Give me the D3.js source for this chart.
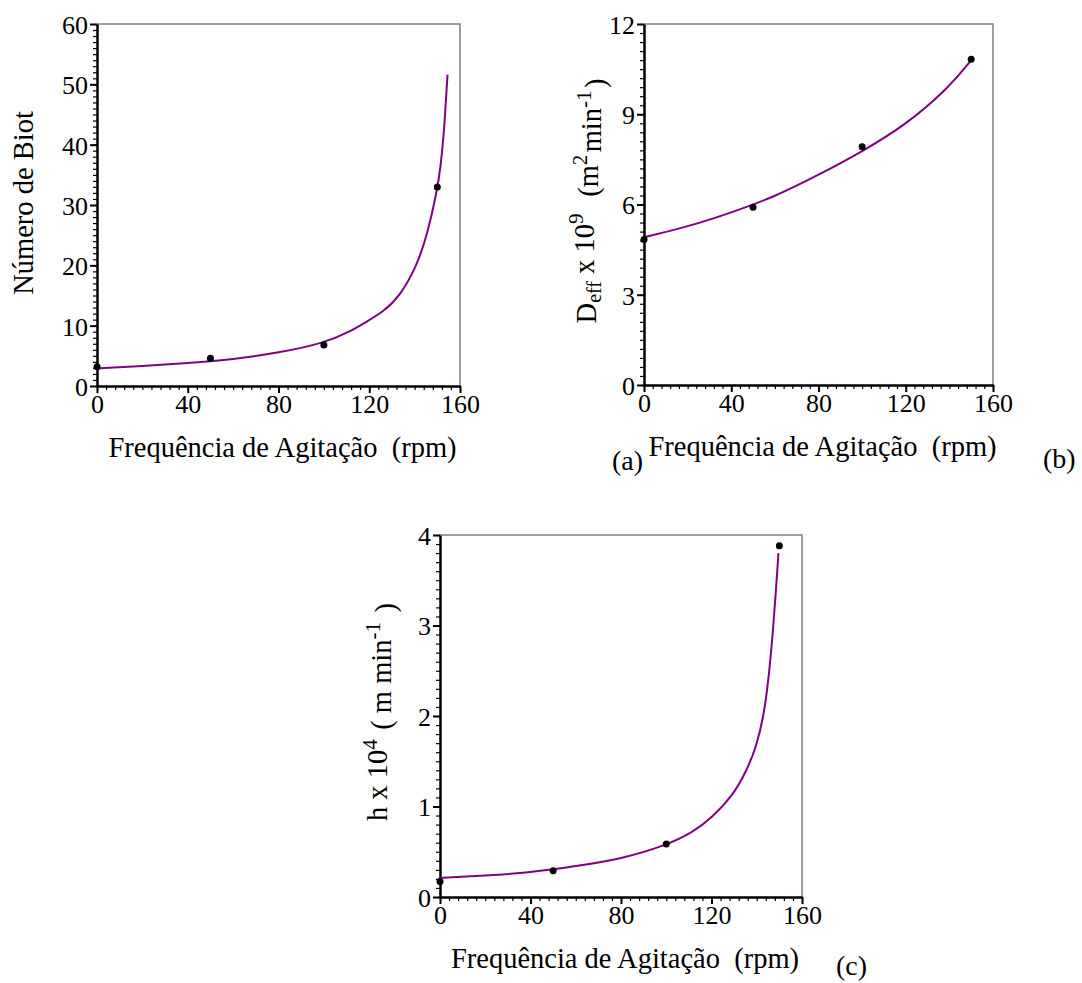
<!DOCTYPE html>
<html>
<head>
<meta charset="utf-8">
<script src="https://cdn.jsdelivr.net/npm/d3@7"></script>
<style>
  body { margin: 0; background: #fff; }
  svg text { font-family: "Liberation Serif", "Times New Roman", serif; fill: #000; white-space: pre; }
</style>
</head>
<body>
<svg id="fig" width="1082" height="983"></svg>
<script>
// agitation frequency of the measured points (rpm)
var rpm = [0, 50, 100, 150];

// (a) Biot number
var biot = [3.2, 4.6, 6.8, 33];
var biotCurveX = [0, 20, 40, 60, 80, 100, 111.5, 118.9, 126.2, 133.5, 140.9, 145.7, 149.7, 151.5, 152.9, 153.8, 154.5];
var biotCurveY = [2.9, 3.3, 3.8, 4.4, 5.5, 7.1, 9.0, 10.7, 12.3, 14.9, 19.8, 25.3, 32.0, 36.4, 41.9, 47.4, 51.6];

// (b) Deff x 10^9
var deff = [4.84, 5.91, 7.92, 10.83];
var deffCurveX = [0, 20, 40, 60, 80, 100, 120, 140, 150];
var deffCurveY = [4.91, 5.26, 5.73, 6.26, 6.98, 7.76, 8.64, 9.9, 10.8];

// (c) h x 10^4
var hcoef = [0.17, 0.29, 0.585, 3.88];
var hCurveX = [0, 20, 40, 60, 80, 100, 112, 120, 129.7, 135.6, 139.8, 143, 145.2, 147.1, 148.6, 149.6];
var hCurveY = [0.21, 0.235, 0.27, 0.34, 0.42, 0.57, 0.72, 0.87, 1.13, 1.40, 1.66, 1.99, 2.40, 2.91, 3.43, 3.80];

var xTicks = [0, 40, 80, 120, 160];

var svg = d3.select("#fig");
var serif = "'Liberation Serif', 'Times New Roman', serif";

function panel(o) {
   var x = d3.scaleLinear().domain([0, 160]).range([o.x0, o.x1]);
   var y = d3.scaleLinear().domain([0, o.ymax]).range([o.y1, o.y0]);
   var g = svg.append("g");

   // gray frame on top and right
   g.append("path")
      .attr("d", "M" + o.x0 + "," + o.y0 + "H" + o.x1 + "V" + o.y1)
      .attr("fill", "none").attr("stroke", "#808080").attr("stroke-width", 1.5);

   // minor ticks
   g.append("g")
      .attr("transform", "translate(0," + o.y1 + ")")
      .call(d3.axisBottom(x).tickValues(d3.range(0, 161, 4)).tickSize(4).tickFormat(""))
      .call(function(s) { s.select(".domain").remove(); s.selectAll("line").attr("stroke-width", 1.2); });
   g.append("g")
      .attr("transform", "translate(" + o.x0 + ",0)")
      .call(d3.axisLeft(y).tickValues(d3.range(0, o.ymax + o.minor / 2, o.minor)).tickSize(4).tickFormat(""))
      .call(function(s) { s.select(".domain").remove(); s.selectAll("line").attr("stroke-width", 1.2); });

   // major axes
   var xa = g.append("g")
      .attr("transform", "translate(0," + o.y1 + ")")
      .call(d3.axisBottom(x).tickValues(xTicks).tickSize(7).tickSizeOuter(0).tickPadding(2));
   var ya = g.append("g")
      .attr("transform", "translate(" + o.x0 + ",0)")
      .call(d3.axisLeft(y).tickValues(o.yTicks).tickSize(7).tickSizeOuter(0).tickPadding(2).tickFormat(d3.format("d")));
   [xa, ya].forEach(function(a) {
      a.attr("font-family", serif).attr("font-size", 26);
      a.select(".domain").attr("stroke-width", 2.5);
      a.selectAll("line").attr("stroke-width", 2);
      a.selectAll("text").style("font-family", serif).style("font-size", "26px").attr("fill", "#000");
   });
   ya.selectAll("text").attr("dy", "0.36em");

   // fitted curve
   var pts = o.cx.map(function(v, i) { return [v, o.cy[i]]; });
   g.append("path")
      .datum(pts)
      .attr("fill", "none")
      .attr("stroke", "#800080")
      .attr("stroke-width", 2)
      .attr("d", d3.line().x(function(d) { return x(d[0]); }).y(function(d) { return y(d[1]); }).curve(d3.curveBasis));

   // measured points
   g.selectAll("circle.pt")
      .data(o.vals)
      .enter().append("circle")
      .attr("cx", function(d, i) { return x(rpm[i]); })
      .attr("cy", function(d) { return y(d); })
      .attr("r", 3.5)
      .attr("fill", "#000");

   // x title
   g.append("text")
      .attr("x", (o.x0 + o.x1) / 2 + 4)
      .attr("y", o.y1 + 71)
      .attr("text-anchor", "middle")
      .style("font-size", "28.5px")
      .text("Frequência de Agitação  (rpm)");

   // y title
   var yt = g.append("text")
      .attr("transform", "translate(" + o.ytx + "," + o.yty + ") rotate(-90)")
      .attr("text-anchor", "middle")
      .style("font-size", "28.5px");
   o.ytitle(yt);

   // panel letter
   g.append("text")
      .attr("x", o.lx).attr("y", o.ly)
      .style("font-size", "28px")
      .text(o.letter);
}

function sup(t, s) {
   t.append("tspan").attr("dy", "-0.5em").style("font-size", "21px").text(s);
   t.append("tspan").attr("dy", "0.5em").text("\u200a");
}

panel({
   x0: 97, x1: 460, y0: 24, y1: 386, ymax: 60, minor: 1,
   yTicks: [0, 10, 20, 30, 40, 50, 60],
   vals: biot, cx: biotCurveX, cy: biotCurveY,
   ytx: 33, yty: 203,
   ytitle: function(t) { t.text("Número de Biot"); },
   letter: "(a)", lx: 612, ly: 470
});

panel({
   x0: 644, x1: 993, y0: 24, y1: 385, ymax: 12, minor: 0.3,
   yTicks: [0, 3, 6, 9, 12],
   vals: deff, cx: deffCurveX, cy: deffCurveY,
   ytx: 596, yty: 201,
   ytitle: function(t) {
      t.append("tspan").text("D");
      t.append("tspan").attr("dy", "0.25em").style("font-size", "20px").text("eff");
      t.append("tspan").attr("dy", "-0.25em").text(" x 10");
      sup(t, "9");
      t.append("tspan").text("  (m");
      sup(t, "2");
      t.append("tspan").text("min");
      sup(t, "-1");
      t.append("tspan").text(")");
   },
   letter: "(b)", lx: 1043, ly: 468
});

panel({
   x0: 440, x1: 802, y0: 535, y1: 897, ymax: 4, minor: 0.1,
   yTicks: [0, 1, 2, 3, 4],
   vals: hcoef, cx: hCurveX, cy: hCurveY,
   ytx: 387, yty: 712,
   ytitle: function(t) {
      t.append("tspan").text("h x 10");
      sup(t, "4");
      t.append("tspan").text(" ( m min");
      sup(t, "-1");
      t.append("tspan").text(" )");
   },
   letter: "(c)", lx: 836, ly: 975
});
</script>
</body>
</html>
